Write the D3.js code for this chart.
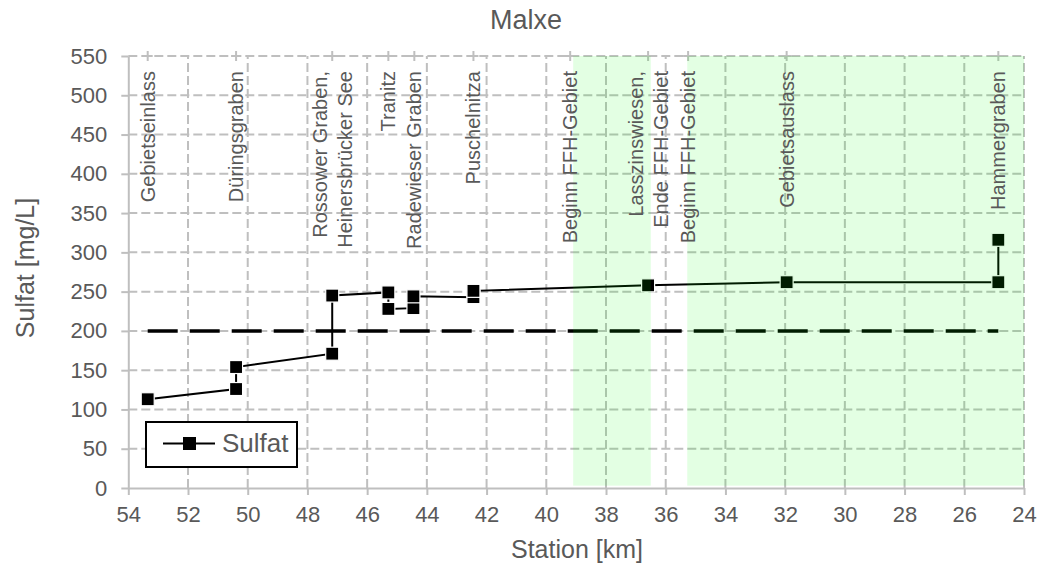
<!DOCTYPE html>
<html>
<head>
<meta charset="utf-8">
<script src="https://cdn.jsdelivr.net/npm/d3@7"></script>
<style>
  body { margin: 0; background: #fff; }
  svg { display: block; font-family: "Liberation Sans", Arial, sans-serif; }
</style>
</head>
<body>
<script>
// Sulfat entlang der Malxe (Station in km, Wert in mg/L)
var stationKm = [53.35, 50.39, 50.39, 47.17, 47.17, 45.29, 45.29, 44.45, 44.45, 42.44, 42.44, 36.59, 31.95, 24.86, 24.86];
var sulfat    = [113, 126, 154, 171, 245, 249, 228, 229, 244, 243, 251, 258, 262, 262, 316];

// Orientierungswert 200 mg/L
var grenzKm   = [53.35, 24.86];
var grenzWert = [200, 200];

// Ortsbeschriftungen
var ortKm = [53.35, 50.39, 47.17, 45.29, 44.42, 42.44, 39.2, 36.59, 35.25, 31.95, 24.86];
var ortText = [
  ["Gebietseinlass"],
  ["Düringsgraben"],
  ["Rossower Graben,", "Heinersbrücker See"],
  ["Tranitz"],
  ["Radewieser Graben"],
  ["Puschelnitza"],
  ["Beginn FFH-Gebiet"],
  ["Lasszinswiesen,", "Ende FFH-Gebiet"],
  ["Beginn FFH-Gebiet"],
  ["Gebietsauslass"],
  ["Hammergraben"]
];

// FFH-Gebiete
var ffhVon = [39.1, 35.28];
var ffhBis = [36.5, 24];

var xTicks = d3.range(54, 23, -2);
var yTicks = d3.range(0, 551, 50);

var width = 1038, height = 569;
var grau = "#595959", gitter = "#bfbfbf";

var x = d3.scaleLinear().domain([54, 24]).range([128.3, 1024]);
var y = d3.scaleLinear().domain([0, 550]).range([488, 56]);

var svg = d3.select("body").append("svg")
    .attr("width", width)
    .attr("height", height);

// gridlines
svg.append("g").selectAll("line")
    .data(yTicks.filter((d) => d > 0))
  .enter().append("line")
    .attr("x1", x(54)).attr("x2", x(24))
    .attr("y1", (d) => y(d)).attr("y2", (d) => y(d))
    .attr("stroke", gitter).attr("stroke-width", 2)
    .attr("stroke-dasharray", "9,4");

svg.append("g").selectAll("line")
    .data(xTicks.filter((d) => d < 54))
  .enter().append("line")
    .attr("x1", (d) => x(d)).attr("x2", (d) => x(d))
    .attr("y1", y(0)).attr("y2", y(550))
    .attr("stroke", gitter).attr("stroke-width", 2)
    .attr("stroke-dasharray", "9,4");

// axes
var xAxis = svg.append("g")
    .attr("transform", `translate(0,${y(0)})`)
    .call(d3.axisBottom(x).tickValues(xTicks).tickFormat(d3.format("d"))
      .tickSize(7).tickSizeOuter(0).tickPadding(11));

var yAxis = svg.append("g")
    .attr("transform", `translate(${x(54)},0)`)
    .call(d3.axisLeft(y).tickValues(yTicks)
      .tickSize(7).tickSizeOuter(0).tickPadding(14));

[xAxis, yAxis].forEach((a) => {
  a.select(".domain").attr("stroke", gitter).attr("stroke-width", 2);
  a.selectAll(".tick line").attr("stroke", gitter).attr("stroke-width", 2);
  a.selectAll(".tick text")
      .attr("fill", grau)
      .style("font-size", "22px")
      .style("font-family", "'Liberation Sans', Arial, sans-serif");
});

// "+" marks at the top for the places
var plus = svg.append("g").attr("stroke", gitter).attr("stroke-width", 2);
ortKm.forEach((k) => {
  plus.append("line").attr("x1", x(k)).attr("x2", x(k)).attr("y1", y(550) - 5).attr("y2", y(550) + 5);
  plus.append("line").attr("x1", x(k) - 5).attr("x2", x(k) + 5).attr("y1", y(550)).attr("y2", y(550));
});

// threshold line
var grenz = grenzKm.map((k, i) => [k, grenzWert[i]]);
svg.append("path")
    .datum(grenz)
    .attr("fill", "none")
    .attr("stroke", "#000")
    .attr("stroke-width", 3.5)
    .attr("stroke-dasharray", "30,12")
    .attr("d", d3.line().x((d) => x(d[0])).y((d) => y(d[1])));

// series
var punkte = stationKm.map((k, i) => [k, sulfat[i]]);
svg.append("path")
    .datum(punkte)
    .attr("fill", "none")
    .attr("stroke", "#000")
    .attr("stroke-width", 2)
    .attr("d", d3.line().x((d) => x(d[0])).y((d) => y(d[1])));

var ms = 13;
svg.append("g").selectAll("rect")
    .data(punkte)
  .enter().append("rect")
    .attr("x", (d) => x(d[0]) - ms / 2)
    .attr("y", (d) => y(d[1]) - ms / 2)
    .attr("width", ms).attr("height", ms)
    .attr("fill", "#000")
    .attr("stroke", "#fff").attr("stroke-width", 1.2);

// FFH areas, light green on top
svg.append("g").selectAll("rect")
    .data(ffhVon)
  .enter().append("rect")
    .attr("x", (d) => x(d))
    .attr("y", y(550))
    .attr("width", (d, i) => x(ffhBis[i]) - x(d))
    .attr("height", y(3) - y(550))
    .attr("fill", "#00ff00")
    .attr("fill-opacity", 0.11);

// place labels
var lab = svg.append("g")
    .attr("fill", grau)
    .style("font-size", "20px")
    .attr("text-anchor", "end");

ortText.forEach((zeilen, i) => {
  var t = lab.append("text")
      .attr("transform", `translate(${x(ortKm[i])},71) rotate(-90)`);
  zeilen.forEach((z, j) => {
    var off = (j - (zeilen.length - 1) / 2) * 25;
    t.append("tspan")
        .attr("x", 0)
        .attr("y", off)
        .attr("dy", "0.35em")
        .text(z);
  });
});

// titles
svg.append("text")
    .attr("x", 526).attr("y", 29)
    .attr("text-anchor", "middle")
    .attr("fill", grau)
    .style("font-size", "27px")
    .text("Malxe");

svg.append("text")
    .attr("x", 577).attr("y", 558)
    .attr("text-anchor", "middle")
    .attr("fill", grau)
    .style("font-size", "25px")
    .text("Station [km]");

svg.append("text")
    .attr("transform", "translate(34,268) rotate(-90)")
    .attr("text-anchor", "middle")
    .attr("fill", grau)
    .style("font-size", "25px")
    .text("Sulfat [mg/L]");

// legend
var leg = svg.append("g");
leg.append("rect")
    .attr("x", 146).attr("y", 422)
    .attr("width", 151).attr("height", 45)
    .attr("fill", "#fff")
    .attr("stroke", "#000").attr("stroke-width", 2);
leg.append("line")
    .attr("x1", 163).attr("x2", 215).attr("y1", 443.5).attr("y2", 443.5)
    .attr("stroke", "#000").attr("stroke-width", 2);
leg.append("rect")
    .attr("x", 189.5 - ms / 2).attr("y", 443.5 - ms / 2)
    .attr("width", ms).attr("height", ms)
    .attr("fill", "#000");
leg.append("text")
    .attr("x", 222).attr("y", 452)
    .attr("fill", grau)
    .style("font-size", "26px")
    .text("Sulfat");
</script>
</body>
</html>
